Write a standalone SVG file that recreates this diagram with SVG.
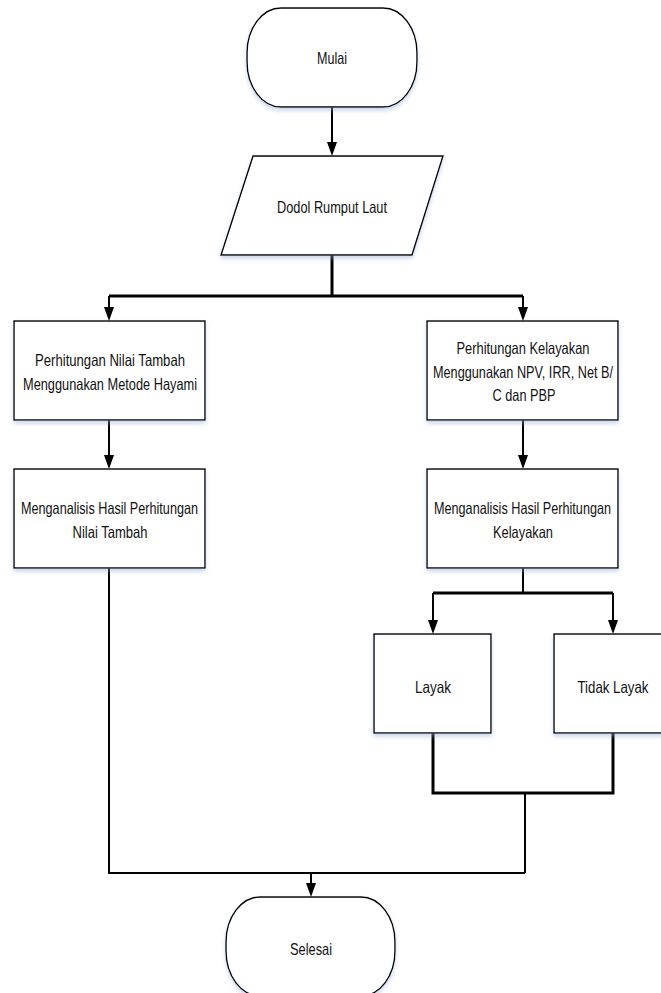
<svg xmlns="http://www.w3.org/2000/svg" width="661" height="993" viewBox="0 0 661 993">
<style>
.shape{fill:#fff;stroke:#000;stroke-width:1.4;filter:url(#sh)}
.t{font-family:"Liberation Sans Narrow","Liberation Sans",Arial,sans-serif;font-size:16.5px;fill:#111;text-anchor:middle}
.c{fill:none;stroke:#000;stroke-width:2}
.cb{fill:none;stroke:#000;stroke-width:3}
.ah{fill:#000}
</style>
<defs>
<filter id="sh" x="-10%" y="-10%" width="120%" height="130%">
<feDropShadow dx="0" dy="3" stdDeviation="2" flood-color="#8fa8d0" flood-opacity="0.45"/>
</filter>
</defs>
<rect width="661" height="993" fill="#fff"/>
<g id="connectors">
<path class="c" d="M332,107 L332,150"/>
<path class="ah" d="M327,142 L337,142 L332,156 Z"/>
<path class="cb" d="M332,255 L332,296 M109,296 L523,296"/>
<path class="c" d="M109,296 L109,312 M523,296 L523,312"/>
<path class="ah" d="M104,307 L114,307 L109,321 Z M518,307 L528,307 L523,321 Z"/>
<path class="c" d="M109,420 L109,460 M523,420 L523,460"/>
<path class="ah" d="M104,455 L114,455 L109,469 Z M518,455 L528,455 L523,469 Z"/>
<path class="c" d="M523,568 L523,593"/>
<path class="cb" d="M433,593 L613,593"/>
<path class="c" d="M433,593 L433,625 M613,593 L613,625"/>
<path class="ah" d="M428,620 L438,620 L433,634 Z M608,620 L618,620 L613,634 Z"/>
<path class="cb" d="M433,733 L433,793 L613,793 L613,733"/>
<path class="c" d="M525,793 L525,873"/>
<path class="c" d="M109,568 L109,873 L525,873"/>
<path class="c" d="M311,873 L311,888"/>
<path class="ah" d="M306,883 L316,883 L311,897 Z"/>
</g>
<g id="mulai">
<rect class="shape" x="247" y="8" width="170" height="99" rx="34" ry="45"/>
<text class="t" x="332" y="64" textLength="30" lengthAdjust="spacingAndGlyphs">Mulai</text>
</g>
<g id="dodol">
<polygon class="shape" points="253,156 443,156 412,255 221,255"/>
<text class="t" x="332" y="212.5" textLength="110" lengthAdjust="spacingAndGlyphs">Dodol Rumput Laut</text>
</g>
<g id="nilai-tambah">
<rect class="shape" x="14" y="321" width="191" height="99"/>
<text class="t" x="110" y="366" textLength="150" lengthAdjust="spacingAndGlyphs">Perhitungan Nilai Tambah</text>
<text class="t" x="110" y="390" textLength="174" lengthAdjust="spacingAndGlyphs">Menggunakan Metode Hayami</text>
</g>
<g id="kelayakan">
<rect class="shape" x="427" y="321" width="191" height="99"/>
<text class="t" x="523" y="354" textLength="133" lengthAdjust="spacingAndGlyphs">Perhitungan Kelayakan</text>
<text class="t" x="523" y="377.5" textLength="180" lengthAdjust="spacingAndGlyphs">Menggunakan NPV, IRR, Net B/</text>
<text class="t" x="524" y="401" textLength="63" lengthAdjust="spacingAndGlyphs">C dan PBP</text>
</g>
<g id="analisis-nilai">
<rect class="shape" x="14" y="469" width="191" height="99"/>
<text class="t" x="109.5" y="514" textLength="177" lengthAdjust="spacingAndGlyphs">Menganalisis Hasil Perhitungan</text>
<text class="t" x="110" y="537.5" textLength="75" lengthAdjust="spacingAndGlyphs">Nilai Tambah</text>
</g>
<g id="analisis-kelayakan">
<rect class="shape" x="427" y="469" width="191" height="99"/>
<text class="t" x="522.5" y="514" textLength="177" lengthAdjust="spacingAndGlyphs">Menganalisis Hasil Perhitungan</text>
<text class="t" x="523" y="537.5" textLength="60" lengthAdjust="spacingAndGlyphs">Kelayakan</text>
</g>
<g id="layak">
<rect class="shape" x="374" y="634" width="117" height="99"/>
<text class="t" x="433" y="692.5" textLength="36" lengthAdjust="spacingAndGlyphs">Layak</text>
</g>
<g id="tidak-layak">
<rect class="shape" x="554" y="634" width="118" height="99"/>
<text class="t" x="613" y="692.5" textLength="71" lengthAdjust="spacingAndGlyphs">Tidak Layak</text>
</g>
<g id="selesai">
<rect class="shape" x="226" y="897" width="169" height="99" rx="34" ry="45"/>
<text class="t" x="311" y="954.5" textLength="42" lengthAdjust="spacingAndGlyphs">Selesai</text>
</g>
</svg>
